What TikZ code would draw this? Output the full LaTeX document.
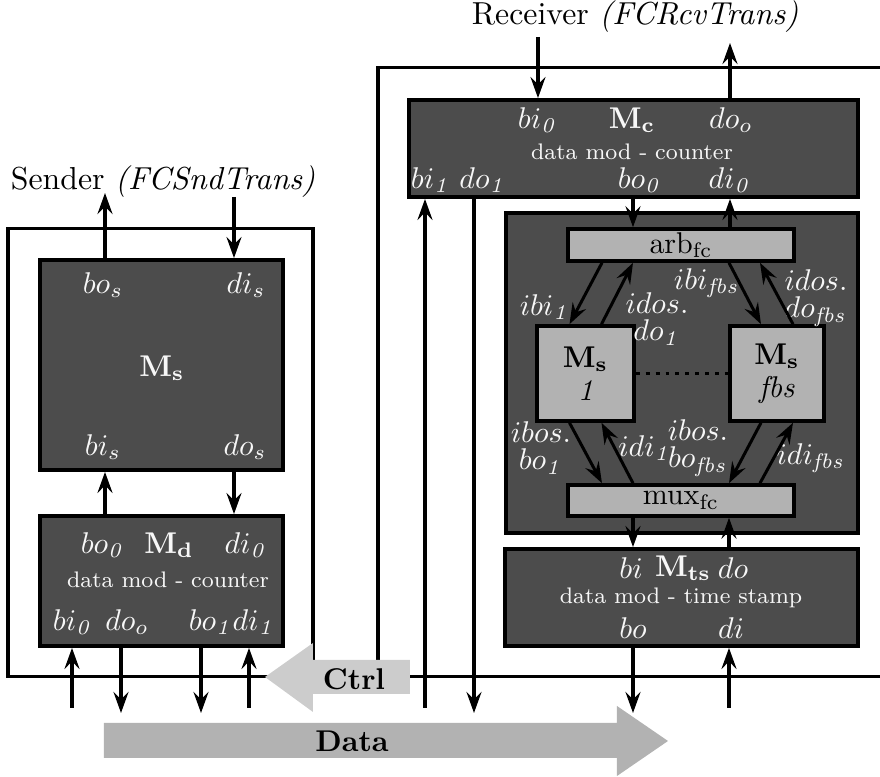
\documentclass[tikz,border=0pt]{standalone}
\usetikzlibrary{arrows.meta,positioning,fit,calc}
\definecolor{darkfill}{gray}{0.3}
\definecolor{lightfill}{gray}{0.7}
\definecolor{porttext}{gray}{0.97}
\definecolor{ctrlgray}{gray}{0.8}
\definecolor{datagray}{gray}{0.7}

\begin{document}
\begin{tikzpicture}[x=0.3333pt, y=-0.3333pt,
        frame/.style={draw, line width=1pt, inner sep=0pt},
        dbox/.style={draw, fill=darkfill, line width=1.3pt, inner sep=0pt},
        lbox/.style={draw, fill=lightfill, line width=1.2pt, inner sep=0pt},
        title/.style={font=\fontsize{10.6}{12}\selectfont},
        port/.style={text=porttext, inner sep=1pt},
        note/.style={text=porttext, font=\fontsize{7.5}{9}\selectfont, inner sep=1pt},
        pair/.style={text=porttext, inner sep=1pt, align=center},
        arrow/.style={-{Stealth[length=7pt, width=5pt, inset=2.5pt]}, line width=1pt}
    ]
        \useasboundingbox (0,0) rectangle (880,777);

        % outer frames
        \node[frame, fit={(8,229) (313,677)}] (snd) {};
        \node[frame, fit={(378,68) (900,677)}] (rcv) {};
        \node[title] (sndtitle) at (163,182) {Sender \textit{(FCSndTrans)}};
        \node[title] (rcvtitle) at (635,17) {Receiver \textit{(FCRcvTrans)}};

        % sender
        \node[dbox, fit={(40,260) (283,470)}] (Ms) {};
        \node[dbox, fit={(40,516) (283,646)}] (Md) {};
        \node[port] (sbos) at (103,285) {$bo_s$};
        \node[port] (sdis) at (246,285) {$di_s$};
        \node[port] (smst) at (162,368) {$\mathbf{M}_\mathbf{s}$};
        \node[port] (sbis) at (103,447) {$bi_s$};
        \node[port] (sdos) at (245,447) {$do_s$};
        \node[port] (dbo0l) at (103,545) {$bo_{\mathit{0}}$};
        \node[port] (dmd) at (169,545) {$\mathbf{M}_\mathbf{d}$};
        \node[port] (ddi0l) at (246,545) {$di_{\mathit{0}}$};
        \node[note] (dnote) at (168,580) {data mod - counter};
        \node[port] (dbi0l) at (73,622) {$bi_{\mathit{0}}$};
        \node[port] (ddool) at (127,622) {$do_o$};
        \node[port] (dbo1l) at (211,622) {$bo_{\mathit{1}}$};
        \node[port] (ddi1l) at (254,622) {$di_{\mathit{1}}$};

        % receiver
        \node[dbox, fit={(409,100) (858,197)}] (Mc) {};
        \node[dbox, fit={(506,213) (858,533)}] (fc) {};
        \node[dbox, fit={(505,549) (858,646)}] (Mts) {};
        \node[lbox, fit={(568,229) (794,261)}] (arb) {};
        \node[lbox, fit={(568,485) (794,516)}] (mux) {};
        \node[lbox, fit={(537,326) (634,421)}] (ms1) {};
        \node[lbox, fit={(730,326) (824,421)}] (msf) {};
        \node (arbl) at (arb) {$\mathrm{arb}_{\mathrm{fc}}$};
        \node (muxl) at (mux) {$\mathrm{mux}_{\mathrm{fc}}$};
        \node[align=center] (ms1l) at (ms1) {$\mathbf{M}_\mathbf{s}$\\[-1pt]\textit{1}};
        \node[align=center] (msfl) at (msf) {$\mathbf{M}_\mathbf{s}$\\[-1pt]\textit{fbs}};
        \draw[dotted, line width=1.3pt] (ms1) -- (msf);

        \node[port] (cbi0l) at (538,120) {$bi_{\mathit{0}}$};
        \node[port] (cmc) at (632,120) {$\mathbf{M}_\mathbf{c}$};
        \node[port] (cdool) at (731,120) {$do_o$};
        \node[note] (cnote) at (632,152) {data mod - counter};
        \node[port] (cbi1l) at (431,180) {$bi_{\mathit{1}}$};
        \node[port] (cdo1l) at (483,180) {$do_{\mathit{1}}$};
        \node[port] (cbo0l) at (640,180) {$bo_{\mathit{0}}$};
        \node[port] (cdi0l) at (730,180) {$di_{\mathit{0}}$};
        \node[port] (tbil) at (631,568) {$bi$};
        \node[port] (tmts) at (683,568) {$\mathbf{M}_\mathbf{ts}$};
        \node[port] (tdol) at (733,568) {$do$};
        \node[note] (tnote) at (681,598) {data mod - time stamp};
        \node[port] (tbol) at (633,628) {$bo$};
        \node[port] (tdil) at (731,628) {$di$};

        \node[port] (libi1) at (545,307) {$ibi_{\mathit{1}}$};
        \node[pair] (lido1) at (657,319) {$idos.$\\[-3pt]$do_{\mathit{1}}$};
        \node[port] (libif) at (707,283) {$ibi_{\mathit{fbs}}$};
        \node[pair] (lidof) at (816,298) {$idos.$\\[-3pt]$do_{\mathit{fbs}}$};
        \node[pair] (libo1) at (541,448) {$ibos.$\\[-3pt]$bo_{\mathit{1}}$};
        \node[port] (lidi1) at (645,448) {$idi_{\mathit{1}}$};
        \node[pair] (libof) at (698,448) {$ibos.$\\[-3pt]$bo_{\mathit{fbs}}$};
        \node[port] (lidif) at (811,458) {$idi_{\mathit{fbs}}$};

        % ctrl and data
        \fill[ctrlgray] (265,677) -- (313,643) -- (313,660) -- (410,660) -- (410,694)
            -- (313,694) -- (313,712) -- cycle;
        \node[font=\bfseries] (ctrl) at (354,679) {Ctrl};
        \fill[datagray] (104,723) -- (617,723) -- (617,706) -- (668,741) -- (617,776)
            -- (617,758) -- (104,758) -- cycle;
        \node[font=\bfseries] (data) at (352,741) {Data};

        % free ends
        \coordinate (sndbo) at (105,193);
        \coordinate (snddi) at (234,197);
        \coordinate (rcvbi) at (538,37);
        \coordinate (rcvdo) at (730,43);
        \coordinate (dbi0) at (72,708);
        \coordinate (ddoo) at (121,713);
        \coordinate (dbo1) at (201,713);
        \coordinate (ddi1) at (249,708);
        \coordinate (cbi1) at (425,708);
        \coordinate (cdo1) at (474,713);
        \coordinate (tbo) at (633,713);
        \coordinate (tdi) at (729,708);

        \draw[arrow] (sndbo |- Ms.north) -- (sndbo);
        \draw[arrow] (snddi) -- (snddi |- Ms.north);
        \draw[arrow] (sndbo |- Md.north) -- (sndbo |- Ms.south);
        \draw[arrow] (snddi |- Ms.south) -- (snddi |- Md.north);
        \draw[arrow] (dbi0) -- (dbi0 |- Md.south);
        \draw[arrow] (ddoo |- Md.south) -- (ddoo);
        \draw[arrow] (dbo1 |- Md.south) -- (dbo1);
        \draw[arrow] (ddi1) -- (ddi1 |- Md.south);

        \draw[arrow] (rcvbi) -- (rcvbi |- Mc.north);
        \draw[arrow] (rcvdo |- Mc.north) -- (rcvdo);
        \draw[arrow] (cbi1) -- (cbi1 |- Mc.south);
        \draw[arrow] (cdo1 |- Mc.south) -- (cdo1);
        \draw[arrow] (tbo |- Mc.south) -- (tbo |- arb.north);
        \draw[arrow] (rcvdo |- arb.north) -- (rcvdo |- Mc.south);
        \draw[arrow] (tbo |- mux.south) -- (tbo |- Mts.north);
        \draw[arrow] (tdi |- Mts.north) -- (tdi |- mux.south);
        \draw[arrow] (tbo |- Mts.south) -- (tbo);
        \draw[arrow] (tdi) -- (tdi |- Mts.south);

        \draw[arrow] ($(arb.south)+(-79,0)$) -- ($(ms1.north)+(-16,0)$);
        \draw[arrow] ($(ms1.north)+(16,0)$) -- ($(arb.south)+(-48,0)$);
        \draw[arrow] ($(arb.south)+(48,0)$) -- ($(msf.north)+(-16,0)$);
        \draw[arrow] ($(msf.north)+(16,0)$) -- ($(arb.south)+(79,0)$);
        \draw[arrow] ($(ms1.south)+(-16,0)$) -- ($(mux.north)+(-79,0)$);
        \draw[arrow] ($(mux.north)+(-48,0)$) -- ($(ms1.south)+(16,0)$);
        \draw[arrow] ($(msf.south)+(-16,0)$) -- ($(mux.north)+(48,0)$);
        \draw[arrow] ($(mux.north)+(79,0)$) -- ($(msf.south)+(16,0)$);
    \end{tikzpicture}
\end{document}
